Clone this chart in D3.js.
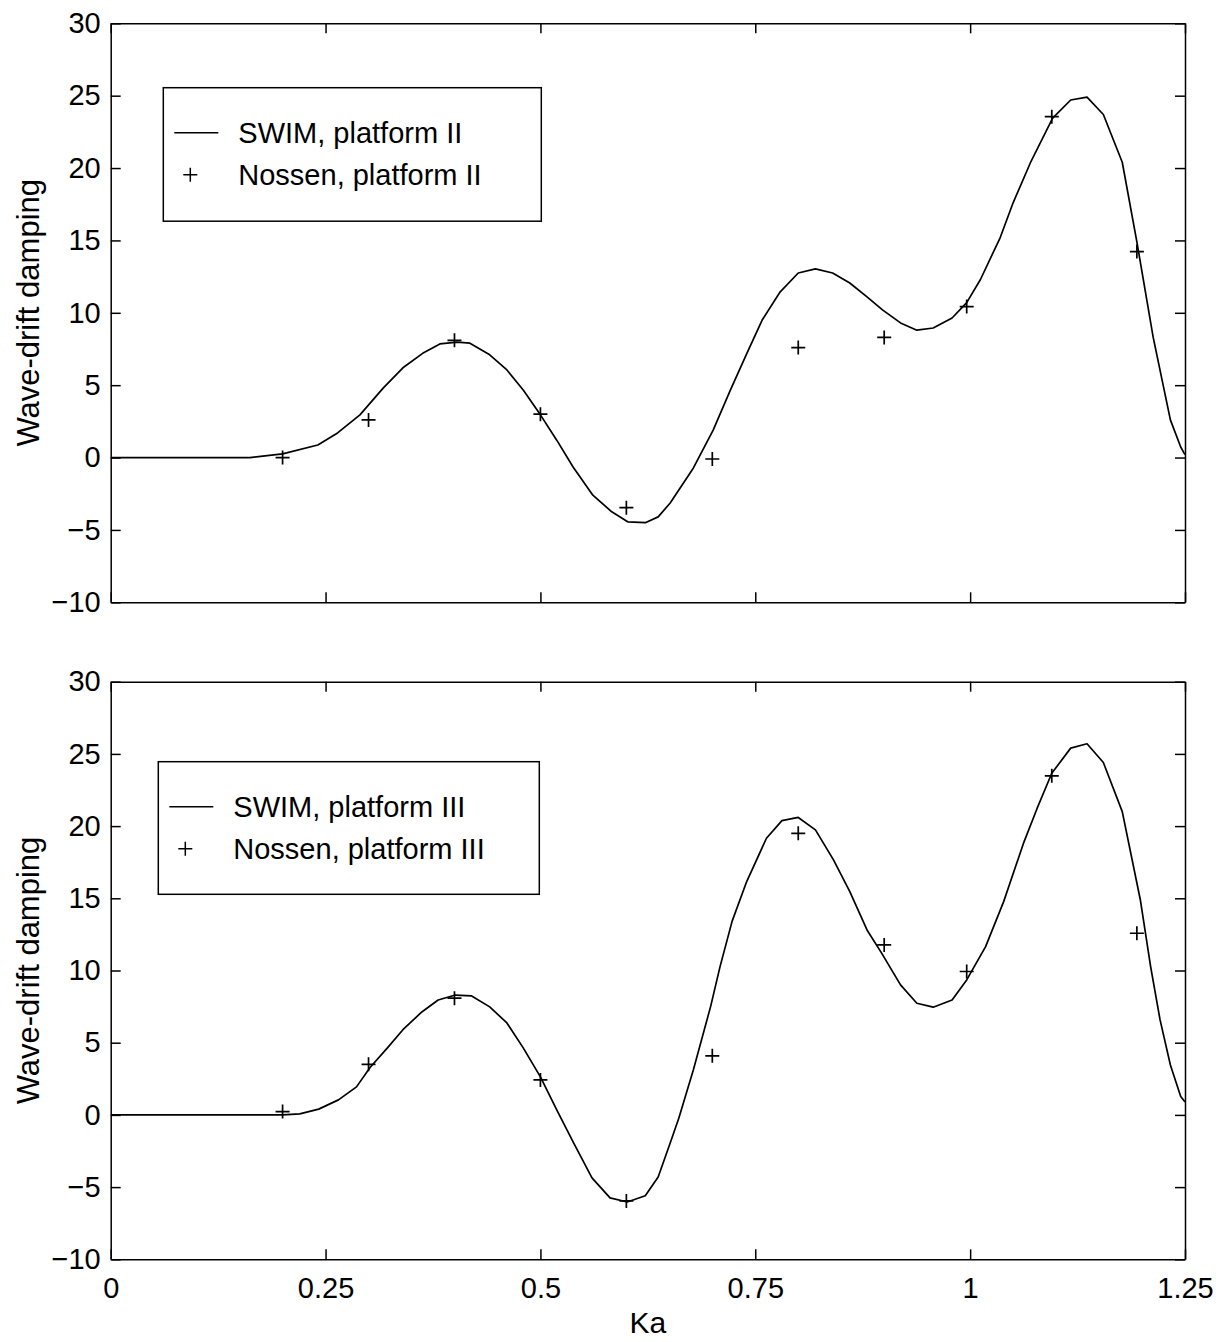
<!DOCTYPE html>
<html>
<head>
<meta charset="utf-8">
<title>Wave-drift damping</title>
<script src="https://d3js.org/d3.v7.min.js"></script>
<style>
    body { margin: 0; background: #fff; }
    svg { display: block; font-family: "Liberation Sans", Arial, Helvetica, sans-serif; }
    .axis text { font-size: 29px; fill: #000; }
    .axis line, .axis path { stroke: #000; stroke-width: 1.5px; }
</style>
</head>
<body>
<div id="chart"></div>
<script>
// Nossen measurements (shared Ka values)
const nossenKa  = [0.2, 0.3, 0.4, 0.5, 0.6, 0.7, 0.8, 0.9, 0.996, 1.095, 1.194];
const nossenII  = [0.0, 2.6, 8.1, 3.0, -3.46, -0.1, 7.6, 8.3, 10.43, 23.55, 14.23];
const nossenIII = [0.23, 3.5, 8.08, 2.42, -5.96, 4.09, 19.5, 11.77, 9.93, 23.48, 12.58];

// SWIM curve, platform II
const swimKaII = [0, 0.162, 0.2, 0.241, 0.264, 0.29, 0.317, 0.34, 0.363, 0.383, 0.403, 0.418, 0.441,
    0.461, 0.48, 0.5, 0.519, 0.538, 0.561, 0.583, 0.602, 0.622, 0.637, 0.651, 0.678, 0.701, 0.721,
    0.741, 0.758, 0.779, 0.8, 0.82, 0.84, 0.86, 0.88, 0.898, 0.919, 0.938, 0.957, 0.979, 0.996, 1.012,
    1.035, 1.05, 1.07, 1.096, 1.117, 1.136, 1.155, 1.177, 1.194, 1.213, 1.233, 1.245, 1.25];
const swimII = [0, 0.0, 0.25, 0.87, 1.7, 2.95, 4.8, 6.2, 7.2, 7.85, 7.98, 7.9, 7.1,
    6.05, 4.67, 2.95, 1.2, -0.65, -2.6, -3.75, -4.45, -4.5, -4.1, -3.14, -0.72, 1.9, 4.66,
    7.3, 9.5, 11.45, 12.75, 13.03, 12.75, 12.06, 11.1, 10.2, 9.3, 8.8, 8.95, 9.64, 10.7, 12.3,
    15.2, 17.6, 20.35, 23.45, 24.7, 24.9, 23.7, 20.4, 14.9, 8.3, 2.6, 0.73, 0.2];

// SWIM curve, platform III
const swimKaIII = [0, 0.162, 0.2, 0.22, 0.242, 0.265, 0.286, 0.302, 0.322, 0.34, 0.362, 0.381, 0.401,
    0.42, 0.441, 0.461, 0.48, 0.5, 0.519, 0.538, 0.56, 0.581, 0.601, 0.622, 0.637, 0.651, 0.661,
    0.678, 0.698, 0.709, 0.723, 0.74, 0.763, 0.781, 0.8, 0.82, 0.841, 0.86, 0.88, 0.897, 0.919,
    0.938, 0.957, 0.979, 0.996, 1.018, 1.039, 1.062, 1.078, 1.095, 1.117, 1.136, 1.155, 1.177,
    1.198, 1.21, 1.221, 1.233, 1.245, 1.25];
const swimIII = [0, 0.0, 0.0, 0.07, 0.4, 1.04, 1.94, 3.3, 4.64, 5.9, 7.13, 7.96, 8.3,
    8.24, 7.48, 6.37, 4.64, 2.63, 0.35, -1.87, -4.36, -5.75, -6.03, -5.6, -4.3, -1.94, -0.23,
    3.12, 7.5, 10.27, 13.4, 16.16, 19.16, 20.38, 20.6, 19.74, 17.66, 15.46, 12.81, 11.2, 9.0,
    7.73, 7.46, 7.96, 9.35, 11.65, 14.77, 18.8, 21.24, 23.66, 25.4, 25.7, 24.4, 21.0,
    14.9, 10.27, 6.58, 3.46, 1.27, 0.9];

// Axis ticks
const xTicks = [0, 0.25, 0.5, 0.75, 1, 1.25];
const xTickLabels = ["0", "0.25", "0.5", "0.75", "1", "1.25"];
const yTicks = [-10, -5, 0, 5, 10, 15, 20, 25, 30];

const width = 1220, height = 1342;
const left = 110.7, right = 1185;

const svg = d3.select("#chart").append("svg")
    .attr("width", width)
    .attr("height", height);

const x = d3.scaleLinear().domain([0, 1.25]).range([left, right]);

function panel(cfg) {
    const y = d3.scaleLinear().domain([-10, 30]).range([cfg.bottom, cfg.top]);
    const g = svg.append("g");

    const clipId = "clip" + cfg.id;
    svg.append("clipPath").attr("id", clipId)
        .append("rect")
        .attr("x", left).attr("y", cfg.top)
        .attr("width", right - left).attr("height", cfg.bottom - cfg.top);

    // axes, ticks pointing inward on all four sides
    g.append("g").attr("class", "axis")
        .attr("transform", `translate(${left},0)`)
        .call(d3.axisLeft(y).tickValues(yTicks).tickSize(-10).tickSizeOuter(0)
            .tickPadding(10).tickFormat(d3.format("d")));
    g.append("g").attr("class", "axis")
        .attr("transform", `translate(${right},0)`)
        .call(d3.axisRight(y).tickValues(yTicks).tickSize(-10).tickSizeOuter(0).tickFormat(""));
    g.append("g").attr("class", "axis")
        .attr("transform", `translate(0,${cfg.top})`)
        .call(d3.axisTop(x).tickValues(xTicks).tickSize(-10).tickSizeOuter(0).tickFormat(""));
    g.append("g").attr("class", "axis")
        .attr("transform", `translate(0,${cfg.bottom})`)
        .call(d3.axisBottom(x).tickValues(xTicks).tickSize(-10).tickSizeOuter(0)
            .tickPadding(18)
            .tickFormat((d, i) => cfg.xLabels ? xTickLabels[i] : ""));

    // y label
    g.append("text")
        .attr("transform", `translate(39,${(cfg.top + cfg.bottom) / 2}) rotate(-90)`)
        .attr("text-anchor", "middle")
        .style("font-size", "31px")
        .text("Wave-drift damping");

    // SWIM line
    const line = d3.line().x(d => x(d[0])).y(d => y(d[1]));
    g.append("path")
        .datum(d3.zip(cfg.swimKa, cfg.swim))
        .attr("clip-path", `url(#${clipId})`)
        .attr("fill", "none")
        .attr("stroke", "#000")
        .attr("stroke-width", 1.7)
        .attr("stroke-linejoin", "round")
        .attr("d", line);

    // Nossen markers
    g.selectAll(".nossen")
        .data(d3.zip(nossenKa, cfg.nossen))
        .join("path")
        .attr("class", "nossen")
        .attr("transform", d => `translate(${x(d[0])},${y(d[1])})`)
        .attr("d", "M-7,0H7M0,-7V7")
        .attr("stroke", "#000")
        .attr("stroke-width", 1.7)
        .attr("fill", "none");

    // legend
    const L = cfg.legend;
    g.append("rect")
        .attr("x", L.x).attr("y", L.y)
        .attr("width", L.w).attr("height", L.h)
        .attr("fill", "#fff").attr("stroke", "#000").attr("stroke-width", 1.5);
    g.append("line")
        .attr("x1", L.x + 11).attr("x2", L.x + 55)
        .attr("y1", L.y + 45).attr("y2", L.y + 45)
        .attr("stroke", "#000").attr("stroke-width", 1.5);
    g.append("path")
        .attr("transform", `translate(${L.x + 27},${L.y + 87})`)
        .attr("d", "M-7,0H7M0,-7V7")
        .attr("stroke", "#000").attr("stroke-width", 1.5);
    g.append("text")
        .attr("x", L.x + 75).attr("y", L.y + 45)
        .attr("dy", "0.35em")
        .style("font-size", "29px")
        .text(cfg.names[0]);
    g.append("text")
        .attr("x", L.x + 75).attr("y", L.y + 87)
        .attr("dy", "0.35em")
        .style("font-size", "29px")
        .text(cfg.names[1]);
}

panel({
    id: 1, top: 23.3, bottom: 602.3,
    swimKa: swimKaII, swim: swimII, nossen: nossenII,
    names: ["SWIM, platform II", "Nossen, platform II"],
    legend: { x: 163.3, y: 87.7, w: 378, h: 133.5 },
    xLabels: false
});

panel({
    id: 2, top: 681.7, bottom: 1259.3,
    swimKa: swimKaIII, swim: swimIII, nossen: nossenIII,
    names: ["SWIM, platform III", "Nossen, platform III"],
    legend: { x: 158.3, y: 761.7, w: 381, h: 132.6 },
    xLabels: true
});

// x label
svg.append("text")
    .attr("x", (left + right) / 2)
    .attr("y", 1333)
    .attr("text-anchor", "middle")
    .style("font-size", "30px")
    .text("Ka");
</script>
</body>
</html>
